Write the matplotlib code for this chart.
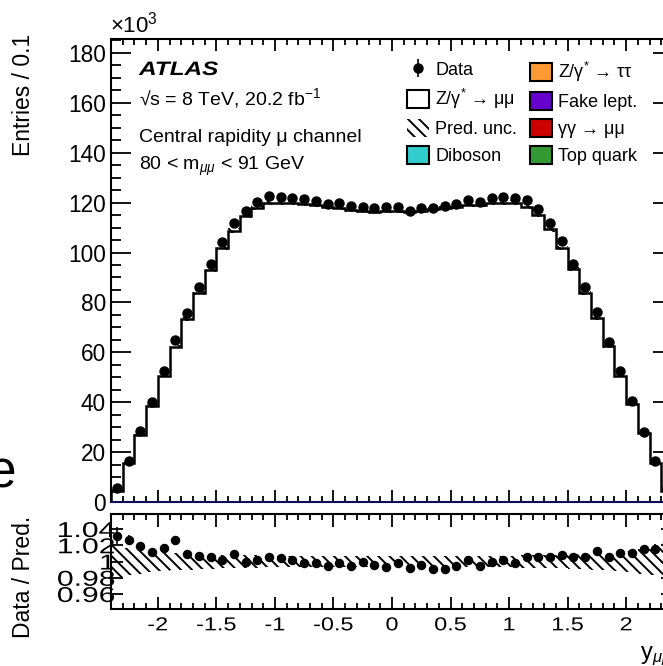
import numpy as np
import matplotlib
matplotlib.use("Agg")
import matplotlib.pyplot as plt
from matplotlib.patches import Patch
from matplotlib.patheffects import AbstractPathEffect
from matplotlib.transforms import Affine2D

# bin edges in rapidity, 0.1 wide
edges = np.round(np.linspace(-2.4, 2.4, 49), 2)
centers = 0.5 * (edges[:-1] + edges[1:])

# entries (x10^3)
data = [5.6, 16.5, 28.3, 40.2, 52.5, 65.0, 75.8, 86.1, 95.4, 104.2, 111.8, 116.8,
        120.2, 122.7, 122.4, 121.8, 121.4, 120.8, 119.5, 119.8, 118.7, 118.4, 117.8, 118.2,
        118.4, 116.8, 117.8, 117.8, 118.8, 119.5, 121.1, 120.4, 121.8, 122.4, 121.8, 121.1,
        117.4, 111.7, 104.6, 95.3, 86.1, 76.1, 64.3, 52.5, 40.5, 28.2, 16.6, 5.6]
pred = [4.6, 15.5, 26.9, 38.6, 50.6, 62.3, 73.4, 83.7, 93.0, 102.0, 108.8, 114.8,
        118.0, 119.8, 119.8, 119.7, 119.5, 119.1, 118.2, 117.8, 117.0, 116.6, 116.4, 116.8,
        116.6, 116.1, 116.8, 117.4, 117.8, 118.2, 119.1, 119.1, 119.7, 120.0, 120.0, 118.4,
        115.1, 109.3, 101.7, 93.3, 83.7, 73.6, 62.5, 50.6, 39.3, 27.5, 15.5, 4.6]

# data / prediction
ratio = [1.032, 1.027, 1.019, 1.012, 1.017, 1.027, 1.009, 1.007, 1.006, 1.002, 1.009, 0.999,
         1.002, 1.006, 1.004, 1.002, 0.9985, 0.9985, 0.994, 0.998, 0.995, 1.000, 0.996, 0.993,
         0.998, 0.992, 0.996, 0.991, 0.991, 0.995, 1.002, 0.995, 1.000, 1.002, 0.9985, 1.006,
         1.0055, 1.0055, 1.008, 1.0055, 1.006, 1.013, 1.006, 1.011, 1.010, 1.015, 1.016, 1.024]
ratio_err = [0.010, 0.006, 0.004, 0.004, 0.003, 0.003, 0.003, 0.003, 0.003, 0.003, 0.003, 0.003,
             0.003, 0.003, 0.003, 0.003, 0.003, 0.003, 0.003, 0.003, 0.003, 0.003, 0.003, 0.003,
             0.003, 0.003, 0.003, 0.003, 0.003, 0.003, 0.003, 0.003, 0.003, 0.003, 0.003, 0.003,
             0.003, 0.003, 0.003, 0.003, 0.003, 0.003, 0.003, 0.003, 0.004, 0.004, 0.006, 0.010]
# relative prediction uncertainty (half width)
pred_unc = [0.020, 0.017, 0.015, 0.013, 0.012, 0.011, 0.010, 0.0095, 0.009, 0.0085, 0.008, 0.0078,
            0.0075, 0.0072, 0.007, 0.007, 0.0068, 0.0068, 0.0066, 0.0066, 0.0065, 0.0065, 0.0065, 0.0065,
            0.0065, 0.0065, 0.0065, 0.0065, 0.0066, 0.0066, 0.0068, 0.0068, 0.007, 0.007, 0.0072, 0.0075,
            0.0078, 0.008, 0.0085, 0.009, 0.0095, 0.010, 0.011, 0.012, 0.013, 0.015, 0.017, 0.020]

bkg_names = ["Diboson", "Z/γ$^{*}$ → ττ", "Fake lept.", "γγ → μμ", "Top quark"]
bkg_colors = ["#33cccc", "#ff9933", "#6600cc", "#cc0000", "#339933"]


class Stretch(AbstractPathEffect):
    """widen text glyphs around an anchor (the reference labels look stretched)"""
    def __init__(self, sx=1.0, sy=1.0, fx=0.5, fy=0.5):
        super().__init__()
        self.sx, self.sy, self.fx, self.fy = sx, sy, fx, fy

    def draw_path(self, renderer, gc, tpath, affine, rgbFace=None):
        ext = tpath.get_extents()
        ox = ext.x0 + self.fx * ext.width
        oy = ext.y0 + self.fy * ext.height
        t = Affine2D().translate(-ox, -oy).scale(self.sx, self.sy).translate(ox, oy)
        renderer.draw_path(gc, tpath, t + affine, rgbFace)


plt.rcParams['font.family'] = ['Liberation Sans', 'DejaVu Sans']
plt.rcParams['mathtext.fontset'] = 'custom'
plt.rcParams['mathtext.rm'] = 'Liberation Sans'
plt.rcParams['mathtext.it'] = 'Liberation Sans:italic'
plt.rcParams['mathtext.bf'] = 'Liberation Sans:bold'
plt.rcParams['axes.unicode_minus'] = False
plt.rcParams['hatch.linewidth'] = 1.4
plt.rcParams['hatch.color'] = 'black'
plt.rcParams['axes.linewidth'] = 1.5

W, H = 663, 666
fig = plt.figure(figsize=(W / 100, H / 100), dpi=100)
ax = fig.add_axes([111 / W, 164 / H, 562 / W, 463 / H])
axr = fig.add_axes([111 / W, 57 / H, 562 / W, 95 / H])

pred = np.array(pred)
unc = np.array(pred_unc)

# main panel
ax.stairs(pred, edges, color='black', lw=1.8, baseline=0)
ax.stairs(pred * (1 + unc), edges, baseline=pred * (1 - unc), fill=True,
          facecolor='none', edgecolor='black', linewidth=0, hatch='\\\\\\')
ax.errorbar(centers, data, yerr=np.sqrt(np.array(data) / 1000.0), fmt='o', color='black',
            ms=6.5, elinewidth=1.2, capsize=0, label='Data')
ax.set_xlim(-2.4, 2.4)
ax.set_ylim(0, 185.6)
ax.set_yticks(np.arange(0, 181, 20))
ax.set_yticks(np.arange(0, 186, 5), minor=True)
ax.set_xticks(np.arange(-2.0, 2.01, 0.5))
ax.set_xticks(np.arange(-2.4, 2.41, 0.1), minor=True)
ax.tick_params(which='both', direction='in', top=True, right=True, width=1.3)
ax.tick_params(axis='x', which='major', length=8.6)
ax.tick_params(axis='x', which='minor', length=4.3)
ax.tick_params(axis='y', which='major', length=14.4, labelsize=16.3, pad=3.6)
ax.tick_params(axis='y', which='minor', length=7.2)
ax.tick_params(labelbottom=False)
ax.spines['bottom'].set_color('#0a0a5a')

# ratio panel
axr.stairs(1 + unc, edges, baseline=1 - unc, fill=True,
           facecolor='none', edgecolor='black', linewidth=0, hatch='\\\\\\')
axr.errorbar(centers, ratio, yerr=ratio_err, fmt='o', color='black', ms=5.8,
             elinewidth=1.2, capsize=0)
axr.set_xlim(-2.4, 2.4)
axr.set_ylim(0.9415, 1.0585)
axr.set_xticks(np.arange(-2.0, 2.01, 0.5))
axr.set_xticks(np.arange(-2.4, 2.41, 0.1), minor=True)
axr.set_yticks([0.96, 0.98, 1.0, 1.02, 1.04])
ylabs = axr.set_yticklabels(['0.96', '0.98', '1', '1.02', '1.04'])
xlabs = axr.set_xticklabels(['-2', '-1.5', '-1', '-0.5', '0', '0.5', '1', '1.5', '2'])
axr.tick_params(which='both', direction='in', top=True, right=True, width=1.3)
axr.tick_params(axis='x', which='major', length=9, labelsize=13.5, pad=6)
axr.tick_params(axis='x', which='minor', length=4.5)
axr.tick_params(axis='y', which='major', length=8.6, labelsize=15.5, pad=-3)
for t in ylabs:
    t.set_path_effects([Stretch(1.4, 1.0, 1.0, 0.5)])
for t in xlabs:
    t.set_path_effects([Stretch(1.25, 1.0, 0.5, 1.0)])

# axis titles and labels
fig.text(24 / W, 1 - 95 / H, 'Entries / 0.1', rotation=90, fontsize=16.5, ha='center', va='center')
fig.text(24 / W, 1 - 577 / H, 'Data / Pred.', rotation=90, fontsize=16.5, ha='center', va='center')
fig.text(640 / W, 1 - 659 / H, 'y$_{μμ}$', fontsize=17, ha='left', va='baseline')
fig.text(110 / W, 1 - 33 / H, '×10$^{3}$', fontsize=16, ha='left', va='baseline')
fig.text(16 / W, 1 - 487 / H, 'e', fontsize=37, ha='right', va='baseline')

atl = fig.text(139 / W, 1 - 75 / H, 'ATLAS', fontsize=14, fontweight='bold', fontstyle='italic',
               ha='left', va='baseline')
atl.set_path_effects([Stretch(1.25, 1.0, 0.0, 0.0)])
fig.text(139 / W, 1 - 105 / H, '√s = 8 TeV, 20.2 fb$^{-1}$', fontsize=14,
         ha='left', va='baseline')
fig.text(139 / W, 1 - 142 / H, 'Central rapidity μ channel', fontsize=14, ha='left', va='baseline')
fig.text(139 / W, 1 - 170 / H, '80 < m$_{μμ}$ < 91 GeV', fontsize=14, ha='left', va='baseline')

# legends, two columns
h_data, l_data = ax.get_legend_handles_labels()
h_sig = Patch(facecolor='white', edgecolor='black', linewidth=1.5)
h_unc = Patch(facecolor='none', edgecolor='black', linewidth=0, hatch='\\\\\\')
h_bkg = [Patch(facecolor=c, edgecolor='black', linewidth=1.5) for c in bkg_colors]

legkw = dict(loc='upper left', frameon=False, fontsize=13, handlelength=1.22,
             handleheight=1.17, handletextpad=0.35, labelspacing=0.43,
             borderpad=0, borderaxespad=0, bbox_transform=fig.transFigure)
leg1 = ax.legend(h_data + [h_sig, h_unc, h_bkg[0]],
                 ['Data', 'Z/γ$^{*}$ → μμ', 'Pred. unc.', bkg_names[0]],
                 bbox_to_anchor=(407 / W, 1 - 60 / H), **legkw)
ax.add_artist(leg1)
ax.legend(h_bkg[1:], bkg_names[1:], bbox_to_anchor=(530 / W, 1 - 60 / H), **legkw)

fig.savefig('out.png', dpi=100)
